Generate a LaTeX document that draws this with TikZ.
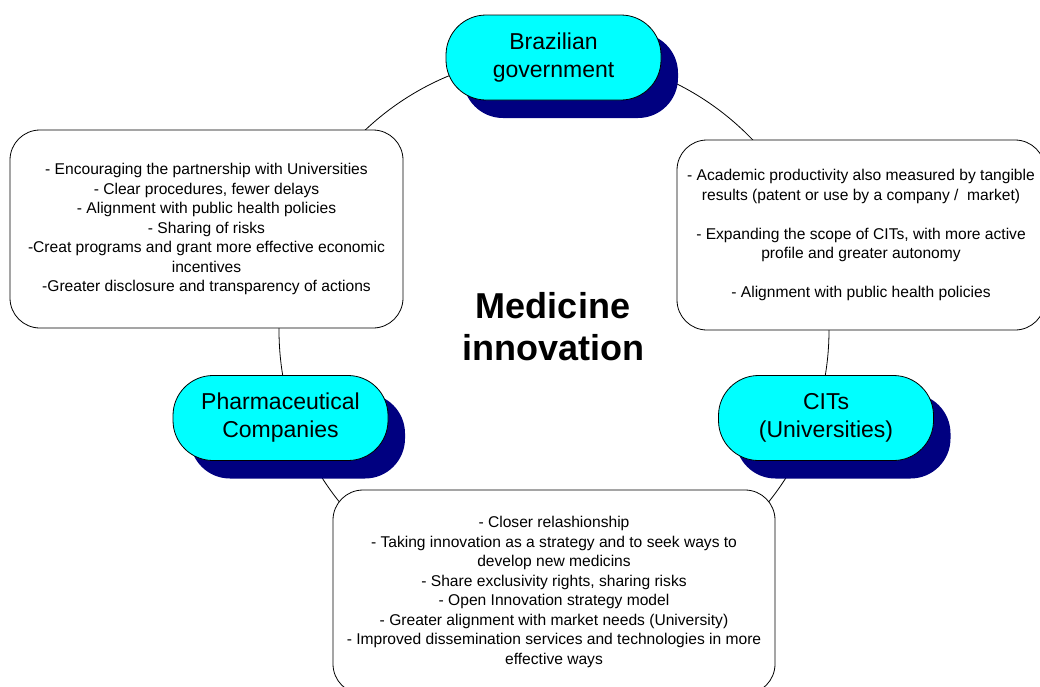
\documentclass[tikz,border=0pt]{standalone}
\usepackage{fontspec}
\setmainfont{Liberation Sans}
\usetikzlibrary{shadows}
\definecolor{pillcyan}{HTML}{00FFFF}
\definecolor{navyc}{HTML}{000080}
\begin{document}
\begin{tikzpicture}[x=1pt,y=-1pt,
  line width=0.8pt,
  pill/.style={draw=black, fill=pillcyan, rounded corners=40pt, align=center,
    minimum width=215pt, minimum height=85pt, inner sep=0pt,
    font=\fontsize{23}{28}\selectfont,
    drop shadow={shadow xshift=17pt, shadow yshift=-18pt, fill=navyc, opacity=1}},
  infobox/.style={draw=black, fill=white, rounded corners=30pt, align=center,
    inner sep=0pt, font=\fontsize{15.6}{19.5}\selectfont},
  ringstyle/.style={draw=black, circle, minimum size=550pt, inner sep=0pt},
  title/.style={align=center, font=\bfseries\fontsize{36}{42}\selectfont}
]
\useasboundingbox (0,0) rectangle (1040,686);
\fill[white] (0,0) rectangle (1040,686);
% ring connecting the actors
\node[ringstyle] (ring) at (554,330) {};
% actors
\node[pill] (gov) at (553.5,57.5) {Brazilian\\government};
\node[pill] (pharma) at (280.5,418) {Pharmaceutical\\Companies};
\node[pill] (cits) at (826,418) {CITs\\(Universities)};
% information boxes
\node[infobox, minimum width=393pt, minimum height=198pt] (leftbox) at (206.5,229)
  {- Encouraging the partnership with Universities\\
   - Clear procedures, fewer delays\\
   - Alignment with public health policies\\
   - Sharing of risks\\
   -Creat programs and grant more effective economic\\
   incentives\\
   -Greater disclosure and transparency of actions};
\node[infobox, minimum width=368pt, minimum height=190pt] (rightbox) at (861,235)
  {- Academic productivity also measured by tangible\\
   results (patent or use by a company /\ \ market)\\[19.5pt]
   - Expanding the scope of CITs, with more active\\
   profile and greater autonomy\\[19.5pt]
   - Alignment with public health policies};
\node[infobox, minimum width=442pt, minimum height=204pt] (bottombox) at (554,592)
  {- Closer relashionship\\
   - Taking innovation as a strategy and to seek ways to\\
   develop new medicins\\
   - Share exclusivity rights, sharing risks\\
   - Open Innovation strategy model\\
   - Greater alignment with market needs (University)\\
   - Improved dissemination services and technologies in more\\
   effective ways};
% central title
\node[title] (center) at (553,327) {Medicine\\innovation};
\end{tikzpicture}
\end{document}
